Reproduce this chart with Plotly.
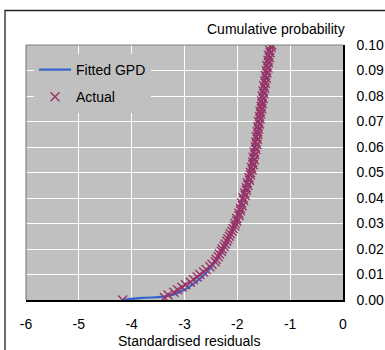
import plotly.graph_objects as go

# Actual data: standardised residuals (x) vs empirical cumulative probability (y)
actual_x = [
    -4.17, -3.38, -3.31, -3.20, -3.13, -3.05, -2.98, -2.89, -2.83, -2.76,
    -2.71, -2.64, -2.59, -2.52, -2.48, -2.42, -2.40, -2.36, -2.34, -2.30,
    -2.29, -2.25, -2.23, -2.20, -2.18, -2.15, -2.13, -2.10, -2.08, -2.05,
    -2.04, -2.01, -2.01, -1.97, -1.97, -1.94, -1.94, -1.91, -1.92, -1.88,
    -1.89, -1.85, -1.86, -1.83, -1.83, -1.80, -1.81, -1.77, -1.78, -1.75,
    -1.75, -1.72, -1.73, -1.70, -1.71, -1.68, -1.70, -1.67, -1.68, -1.65,
    -1.66, -1.63, -1.65, -1.62, -1.64, -1.61, -1.62, -1.60, -1.61, -1.58,
    -1.60, -1.57, -1.58, -1.56, -1.57, -1.54, -1.55, -1.53, -1.54, -1.51,
    -1.53, -1.50, -1.51, -1.48, -1.50, -1.47, -1.48, -1.45, -1.47, -1.44,
    -1.45, -1.42, -1.44, -1.41, -1.42, -1.39, -1.41, -1.38, -1.39, -1.36,
    -1.35,
]
actual_y = [
    0.000, 0.001, 0.002, 0.003, 0.004, 0.005, 0.006, 0.007, 0.008, 0.009,
    0.010, 0.011, 0.012, 0.013, 0.014, 0.015, 0.016, 0.017, 0.018, 0.019,
    0.020, 0.021, 0.022, 0.023, 0.024, 0.025, 0.026, 0.027, 0.028, 0.029,
    0.030, 0.031, 0.032, 0.033, 0.034, 0.035, 0.036, 0.037, 0.038, 0.039,
    0.040, 0.041, 0.042, 0.043, 0.044, 0.045, 0.046, 0.047, 0.048, 0.049,
    0.050, 0.051, 0.052, 0.053, 0.054, 0.055, 0.056, 0.057, 0.058, 0.059,
    0.060, 0.061, 0.062, 0.063, 0.064, 0.065, 0.066, 0.067, 0.068, 0.069,
    0.070, 0.071, 0.072, 0.073, 0.074, 0.075, 0.076, 0.077, 0.078, 0.079,
    0.080, 0.081, 0.082, 0.083, 0.084, 0.085, 0.086, 0.087, 0.088, 0.089,
    0.090, 0.091, 0.092, 0.093, 0.094, 0.095, 0.096, 0.097, 0.098, 0.099,
    0.100,
]

# Fitted GPD curve
gpd_x = [-4.17, -3.80, -3.40, -3.20, -3.00, -2.80, -2.60, -2.40, -2.20,
         -2.05, -1.90, -1.75, -1.60, -1.50, -1.37]
gpd_y = [0.0000, 0.0008, 0.0013, 0.0022, 0.0040, 0.0068, 0.0105, 0.0155,
         0.0220, 0.0300, 0.0400, 0.0520, 0.0680, 0.0830, 0.1000]

x_ticks = [-6, -5, -4, -3, -2, -1, 0]
y_ticks = [0.00, 0.01, 0.02, 0.03, 0.04, 0.05, 0.06, 0.07, 0.08, 0.09, 0.10]

FONT = "Arial, Liberation Sans, sans-serif"
FS = 14
W, H = 385, 350
L, R, T, B = 26, 42, 45, 50
pw, ph = W - L - R, H - T - B


def px_x(p):
    return (p - L) / pw


def px_y(p):
    return (H - B - p) / ph


fig = go.Figure()
fig.add_trace(go.Scatter(
    x=gpd_x, y=gpd_y, mode="lines", name="Fitted GPD",
    line=dict(color="#3366CC", width=2.2, shape="spline"),
    legendgroup="a",
))
fig.add_trace(go.Scatter(
    x=actual_x, y=actual_y, mode="markers", name="Actual",
    marker=dict(symbol="x-thin", size=9, color="#993366",
                line=dict(color="#993366", width=1.4)),
    legendgroup="b",
))

fig.update_layout(
    width=W, height=H,
    margin=dict(l=L, r=R, t=T, b=B, autoexpand=False),
    paper_bgcolor="white",
    plot_bgcolor="#C0C0C0",
    font=dict(family=FONT, size=FS, color="black"),
    showlegend=True,
    legend=dict(
        x=px_x(34), y=px_y(54), xanchor="left", yanchor="top",
        bgcolor="#C0C0C0", borderwidth=0,
        font=dict(family=FONT, size=FS, color="black"),
        traceorder="grouped", tracegroupgap=6,
        itemwidth=32,
    ),
    xaxis=dict(
        range=[-6, 0], tickvals=x_ticks, ticktext=[str(v) for v in x_ticks],
        showgrid=True, gridcolor="white", gridwidth=1, automargin=False,
        zeroline=False, showline=True, linecolor="black", linewidth=1.5,
        ticks="outside", ticklen=10, tickcolor="rgba(0,0,0,0)",
    ),
    yaxis=dict(
        range=[0, 0.10], side="right", tickvals=y_ticks,
        ticktext=[f"{v:.2f}" for v in y_ticks], automargin=False,
        showgrid=True, gridcolor="white", gridwidth=1,
        zeroline=False, showline=True, linecolor="black", linewidth=1.5,
        ticks="outside", ticklen=9, tickcolor="rgba(0,0,0,0)",
    ),
    shapes=[
        # grey left and top frame of plot area
        dict(type="line", xref="paper", yref="paper", x0=0, x1=0, y0=0, y1=1,
             line=dict(color="#707070", width=1)),
        dict(type="line", xref="paper", yref="paper", x0=0, x1=1, y0=1, y1=1,
             line=dict(color="#808080", width=1)),
        # outer chart border
        dict(type="rect", xref="paper", yref="paper",
             x0=px_x(5), x1=px_x(420), y0=px_y(400), y1=px_y(10.5),
             line=dict(color="#222222", width=1.3)),
    ],
    annotations=[
        dict(text="Cumulative probability", xref="paper", yref="paper",
             x=px_x(347), y=px_y(29), xanchor="right", yanchor="middle",
             showarrow=False, font=dict(family=FONT, size=FS)),
        dict(text="Standardised residuals", xref="paper", yref="paper",
             x=px_x(189), y=px_y(341), xanchor="center", yanchor="middle",
             showarrow=False, font=dict(family=FONT, size=FS)),
    ],
)

fig.write_html("out.html")
